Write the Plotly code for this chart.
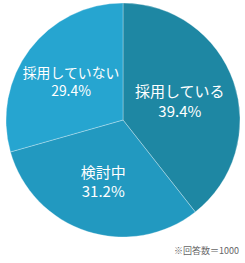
import plotly.graph_objects as go

labels = ["採用している", "検討中", "採用していない"]
values = [39.4, 31.2, 29.4]
colors = ["#1e87a3", "#2299c0", "#26a5d0"]
note = "※回答数＝1000"

fig = go.Figure(go.Pie(
    labels=labels, values=values, sort=False, direction="clockwise", rotation=0,
    marker=dict(colors=colors, line=dict(color="rgba(255,255,255,0.5)", width=0.6)),
    texttemplate="%{label}<br>%{value:.1f}%", textposition="inside",
    insidetextorientation="horizontal",
    textfont=dict(color="white", size=15, family="Noto Sans CJK JP"),
    domain=dict(x=[6/245, 240/245], y=[1-237/263, 1-3/263]),
    showlegend=False, hoverinfo="none",
))
fig.add_annotation(text=note, x=1, y=0, xref="paper", yref="paper",
                   xanchor="right", yanchor="bottom", showarrow=False,
                   xshift=-4, yshift=4,
                   font=dict(size=9, color="#666", family="Noto Sans CJK JP"))
fig.update_layout(width=245, height=263, margin=dict(l=0, r=0, t=0, b=0),
                  paper_bgcolor="white", plot_bgcolor="white")
fig.write_html("out.html")
